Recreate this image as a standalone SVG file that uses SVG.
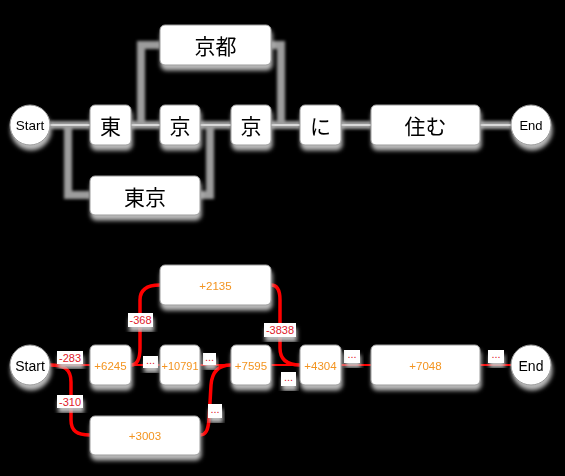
<svg xmlns="http://www.w3.org/2000/svg" width="565" height="476" viewBox="0 0 565 476">
<defs>
<filter id="sh" x="-20%" y="-25%" width="140%" height="160%"><feDropShadow dx="1" dy="5" stdDeviation="2.2" flood-color="#c4c4c4" flood-opacity="0.95"/></filter>
<filter id="bl" x="-20%" y="-20%" width="140%" height="140%"><feGaussianBlur stdDeviation="1.6"/></filter>
<style>
.box{fill:#fff;stroke:#9a9a9a;stroke-width:1}
.jp{font-family:"Noto Sans CJK JP","Noto Sans CJK SC",sans-serif;font-size:21px;fill:#000;text-anchor:middle;dominant-baseline:central}
.se{font-family:"Liberation Sans",Arial,sans-serif;fill:#000;text-anchor:middle;dominant-baseline:central}
.num{font-family:"Liberation Sans",Arial,sans-serif;font-size:11.5px;fill:#f39420;text-anchor:middle;dominant-baseline:central}
.band{fill:none;stroke:#9c9c9c;stroke-width:8;filter:url(#bl)}
.gl{fill:none;stroke:#eeeeee;stroke-width:1.5}
.rl{fill:none;stroke:#ff0000;stroke-width:2}
.rc{fill:none;stroke:#ff0000;stroke-width:3.5}
.lb{fill:#fff;filter:url(#sh)}
.lt{font-family:"Liberation Sans",Arial,sans-serif;font-size:11px;fill:#e0202a;text-anchor:middle;dominant-baseline:central}
</style>
</defs>
<rect x="0" y="0" width="565" height="476" fill="#000"/>

<g id="connectors-top">
<g class="band">
<path d="M50,125 L90,125"/>
<path d="M50,125 L68,125 L68,195 L90,195"/>
<path d="M131,125 L141,125 L141,45 L160,45"/>
<path d="M131,125 L160,125"/>
<path d="M200,125 L231,125"/>
<path d="M200,195 L210,195 L210,125 L231,125"/>
<path d="M271,45 L281,45 L281,125 L300,125"/>
<path d="M271,125 L300,125"/>
<path d="M341,125 L371,125"/>
<path d="M480,125 L511,125"/>
</g>
<g class="gl">
<path d="M50,125 L90,125"/>
<path d="M131,125 L160,125"/>
<path d="M200,125 L231,125"/>
<path d="M271,125 L300,125"/>
<path d="M341,125 L371,125"/>
<path d="M480,125 L511,125"/>
</g>
</g>

<g id="connectors-bottom">
<path class="rl" d="M50,365 L90,365"/>
<path class="rc" d="M50,365 C64,365 71,369 71,382 L71,420 C71,431 77,435 90,435"/>
<path class="rc" d="M131,365 C137,365 140,360 140,348 L140,300 C140,290 146,285 160,285"/>
<path class="rl" d="M131,365 L160,365"/>
<path class="rl" d="M200,365 L231,365"/>
<path class="rc" d="M200,435 C206,435 208,430 209,420 L211,385 C212,372 218,365 231,365"/>
<path class="rc" d="M271,285 C277,285 280,290 280,300 L280,348 C280,360 287,365 300,365"/>
<path class="rl" d="M271,365 L300,365"/>
<path class="rl" d="M341,365 L371,365"/>
<path class="rl" d="M480,365 L511,365"/>
<g id="edge-labels">
<rect class="lb" x="57" y="351" width="26" height="13"/><text class="lt" x="70" y="357.5">-283</text>
<rect class="lb" x="57" y="395" width="26" height="13"/><text class="lt" x="70" y="401.5">-310</text>
<rect class="lb" x="128" y="313" width="25" height="14"/><text class="lt" x="140.5" y="320">-368</text>
<rect class="lb" x="264" y="323" width="32" height="14"/><text class="lt" x="280" y="330">-3838</text>
<rect class="lb" x="143" y="356" width="15" height="12"/><text class="lt" x="150.5" y="360">...</text>
<rect class="lb" x="203" y="353" width="13" height="12"/><text class="lt" x="209.5" y="357">...</text>
<rect class="lb" x="208" y="404" width="14" height="14"/><text class="lt" x="215" y="409">...</text>
<rect class="lb" x="281" y="372" width="15" height="14"/><text class="lt" x="288.5" y="377">...</text>
<rect class="lb" x="344" y="350" width="16" height="13"/><text class="lt" x="352" y="354">...</text>
<rect class="lb" x="488" y="350" width="16" height="13"/><text class="lt" x="496" y="354">...</text>
</g>
</g>

<g id="t-start" filter="url(#sh)"><circle class="box" cx="30" cy="125" r="20"/><text class="se" x="30" y="125.5" font-size="13.5">Start</text></g>
<g id="t-higashi" filter="url(#sh)"><rect class="box" x="90" y="105" width="41" height="40" rx="5"/><text class="jp" x="110.5" y="125">東</text></g>
<g id="t-kyo1" filter="url(#sh)"><rect class="box" x="160" y="105" width="40" height="40" rx="5"/><text class="jp" x="180" y="125">京</text></g>
<g id="t-kyo2" filter="url(#sh)"><rect class="box" x="231" y="105" width="40" height="40" rx="5"/><text class="jp" x="251" y="125">京</text></g>
<g id="t-kyoto" filter="url(#sh)"><rect class="box" x="160" y="25" width="111" height="40" rx="5"/><text class="jp" x="215.5" y="45">京都</text></g>
<g id="t-tokyo" filter="url(#sh)"><rect class="box" x="90" y="176" width="110" height="39" rx="5"/><text class="jp" x="145" y="195.5">東京</text></g>
<g id="t-ni" filter="url(#sh)"><rect class="box" x="300" y="105" width="41" height="40" rx="5"/><text class="jp" x="320.5" y="125">に</text></g>
<g id="t-sumu" filter="url(#sh)"><rect class="box" x="371" y="105" width="109" height="40" rx="5"/><text class="jp" x="425.5" y="125">住む</text></g>
<g id="t-end" filter="url(#sh)"><circle class="box" cx="531" cy="125" r="20"/><text class="se" x="531" y="125.5" font-size="13">End</text></g>

<g id="b-start" filter="url(#sh)"><circle class="box" cx="30" cy="365" r="20"/><text class="se" x="30" y="366" font-size="14">Start</text></g>
<g id="b-6245" filter="url(#sh)"><rect class="box" x="90" y="345" width="41" height="40" rx="5"/><text class="num" x="110.5" y="366">+6245</text></g>
<g id="b-10791" filter="url(#sh)"><rect class="box" x="160" y="345" width="40" height="40" rx="5"/><text class="num" x="180" y="366" textLength="37" lengthAdjust="spacingAndGlyphs">+10791</text></g>
<g id="b-7595" filter="url(#sh)"><rect class="box" x="231" y="345" width="40" height="40" rx="5"/><text class="num" x="251" y="366">+7595</text></g>
<g id="b-2135" filter="url(#sh)"><rect class="box" x="160" y="265" width="111" height="40" rx="5"/><text class="num" x="215.5" y="286">+2135</text></g>
<g id="b-3003" filter="url(#sh)"><rect class="box" x="90" y="416" width="110" height="39" rx="5"/><text class="num" x="145" y="436">+3003</text></g>
<g id="b-4304" filter="url(#sh)"><rect class="box" x="300" y="345" width="41" height="40" rx="5"/><text class="num" x="320.5" y="366">+4304</text></g>
<g id="b-7048" filter="url(#sh)"><rect class="box" x="371" y="345" width="109" height="40" rx="5"/><text class="num" x="425.5" y="366">+7048</text></g>
<g id="b-end" filter="url(#sh)"><circle class="box" cx="531" cy="365" r="20"/><text class="se" x="531" y="366" font-size="14">End</text></g>
</svg>
